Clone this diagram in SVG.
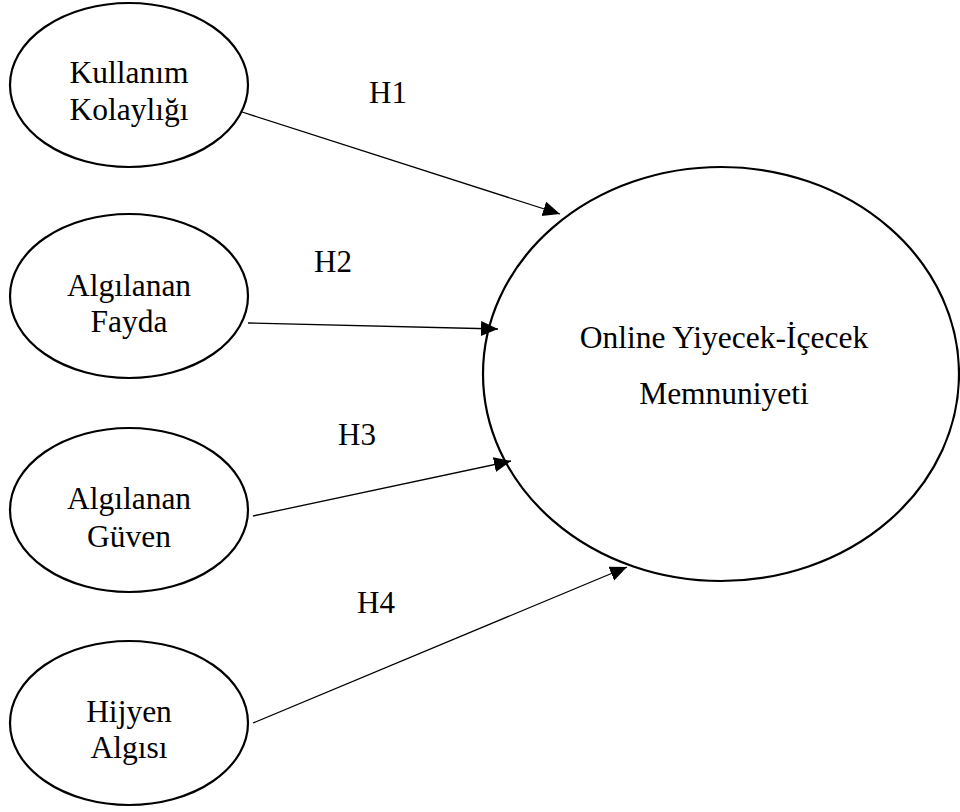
<svg xmlns="http://www.w3.org/2000/svg" width="960" height="812" viewBox="0 0 960 812">
  <style>
    .node { fill: #ffffff; stroke: #000000; stroke-width: 2.2; }
    .label { font-family: "Liberation Serif", "Times New Roman", serif; font-size: 31.5px; fill: #000000; text-anchor: middle; }
    .hyp { font-family: "Liberation Serif", "Times New Roman", serif; font-size: 31px; fill: #000000; }
    .edge { stroke: #000000; stroke-width: 1.3; fill: none; marker-end: url(#arrow); }
  </style>
  <defs>
    <marker id="arrow" markerUnits="userSpaceOnUse" markerWidth="18" markerHeight="16" refX="17" refY="7.5" orient="auto">
      <path d="M0,0 L17,7.5 L0,15 z" fill="#000000"/>
    </marker>
  </defs>
  <rect width="960" height="812" fill="#ffffff"/>

  <g id="connectors">
    <line class="edge" x1="242" y1="112" x2="560" y2="214"/>
    <line class="edge" x1="248" y1="323" x2="498" y2="329"/>
    <line class="edge" x1="253" y1="516" x2="511" y2="461"/>
    <line class="edge" x1="253" y1="723" x2="627" y2="567"/>
    <text class="hyp" x="369" y="103">H1</text>
    <text class="hyp" x="314" y="272">H2</text>
    <text class="hyp" x="338" y="445">H3</text>
    <text class="hyp" x="357" y="613">H4</text>
  </g>

  <g id="kullanim-kolayligi">
    <ellipse class="node" cx="129" cy="85" rx="119" ry="82"/>
    <text class="label" x="129" y="83">Kullanım</text>
    <text class="label" x="129" y="120">Kolaylığı</text>
  </g>

  <g id="algilanan-fayda">
    <ellipse class="node" cx="129" cy="296" rx="119" ry="82"/>
    <text class="label" x="129" y="296">Algılanan</text>
    <text class="label" x="129" y="332">Fayda</text>
  </g>

  <g id="algilanan-guven">
    <ellipse class="node" cx="129" cy="510" rx="119" ry="82"/>
    <text class="label" x="129" y="509">Algılanan</text>
    <text class="label" x="129" y="547">Güven</text>
  </g>

  <g id="hijyen-algisi">
    <ellipse class="node" cx="129" cy="723" rx="119" ry="82"/>
    <text class="label" x="129" y="722">Hijyen</text>
    <text class="label" x="129" y="758">Algısı</text>
  </g>

  <g id="memnuniyet">
    <ellipse class="node" cx="721" cy="374" rx="238" ry="207" style="fill:none"/>
    <text class="label" x="724" y="348">Online Yiyecek-İçecek</text>
    <text class="label" x="724" y="404">Memnuniyeti</text>
  </g>
</svg>
